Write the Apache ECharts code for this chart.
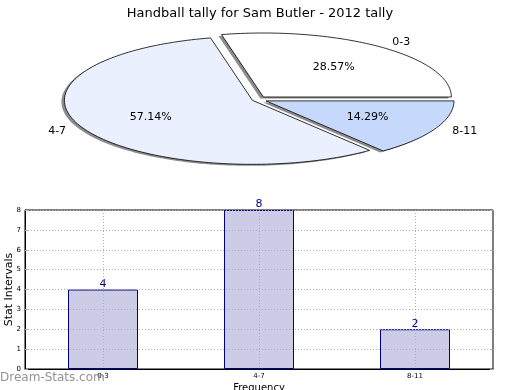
<!DOCTYPE html>
<html><head><meta charset="utf-8">
<script src="https://cdn.jsdelivr.net/npm/echarts@6/dist/echarts.min.js"></script>
<style>html,body{margin:0;padding:0;background:#fff}#c{width:520px;height:390px}</style>
</head><body><div id="c"></div>
<script>
const titleText = 'Handball tally for Sam Butler - 2012 tally';
const categories = ['0-3', '4-7', '8-11'];
const tallyValues = [4, 8, 2];
const yTicks = [0, 1, 2, 3, 4, 5, 6, 7, 8];

const total = tallyValues.reduce((a, b) => a + b, 0);
const PIE = { cx: 257.5, cy: 99.5, rx: 188, ry: 64, explode: [0.05, 0.03, 0.05],
  colors: ['#ffffff', '#eaf0fd', '#c6d9fd'] };
const FONT = '"DejaVu Sans", sans-serif';

function renderWedge(params, api) {
  const i = params.dataIndex;
  let start = 0;
  for (let k = 0; k < i; k++) start += tallyValues[k];
  const v = api.value(0);
  const a0 = start / total * 2 * Math.PI, a1 = (start + v) / total * 2 * Math.PI;
  const mid = (a0 + a1) / 2;
  const ex = PIE.explode[i];
  const ox = PIE.cx + ex * PIE.rx * Math.cos(mid), oy = PIE.cy - ex * PIE.ry * Math.sin(mid);
  const pts = [[ox, oy]];
  const n = Math.max(8, Math.ceil((a1 - a0) / (Math.PI / 120)));
  for (let j = 0; j <= n; j++) {
    const a = a0 + (a1 - a0) * j / n;
    pts.push([ox + PIE.rx * Math.cos(a), oy - PIE.ry * Math.sin(a)]);
  }
  const shadowPts = pts.map(p => [p[0] - 3, p[1] + 1.5]);
  const pct = (v / total * 100).toFixed(2) + '%';
  const lx = ox + 1.1 * PIE.rx * Math.cos(mid), ly = oy - 1.1 * PIE.ry * Math.sin(mid);
  const px = ox + 0.6 * PIE.rx * Math.cos(mid), py = oy - 0.6 * PIE.ry * Math.sin(mid);
  return { type: 'group', children: [
    { type: 'polygon', z2: 0, silent: true, shape: { points: shadowPts }, style: { fill: 'rgba(0,0,0,0.45)' } },
    { type: 'polygon', z2: 10, shape: { points: pts }, style: { fill: PIE.colors[i], stroke: '#000', lineWidth: 0.8 } },
    { type: 'text', z2: 20, x: px, y: py, style: { text: pct, fill: '#000', font: '11px ' + FONT, align: 'center', verticalAlign: 'middle' } },
    { type: 'text', z2: 20, x: lx, y: ly, style: { text: categories[i], fill: '#000', font: '11px ' + FONT,
      align: Math.cos(mid) >= 0 ? 'left' : 'right', verticalAlign: 'middle' } }
  ] };
}

const dotted = { color: '#b0b0b0', width: 1, type: [1, 2] };
const chart = echarts.init(document.getElementById('c'), null, { renderer: 'canvas' });
chart.setOption({
  animation: false,
  textStyle: { fontFamily: FONT },
  title: { text: titleText, left: 'center', top: 2,
    textStyle: { fontSize: 13, fontWeight: 'normal', color: '#000', fontFamily: FONT } },
  grid: { left: 25, right: 27, top: 210, bottom: 21, containLabel: false, outerBoundsMode: 'none',
    show: true, borderColor: '#000', borderWidth: 1, backgroundColor: 'transparent' },
  xAxis: [{
    type: 'category', data: categories, z: 5,
    axisLine: { lineStyle: { color: '#000', width: 1 } },
    axisTick: { alignWithLabel: true, inside: true, length: 3, lineStyle: { color: '#aaa' } },
    axisLabel: { fontSize: 7, color: '#000', margin: 4 },
    splitLine: { show: true, alignWithLabel: true, lineStyle: dotted },
    name: 'Frequency', nameLocation: 'middle', nameGap: 14, nameMoveOverlap: false,
    nameTextStyle: { fontSize: 10, color: '#000' }
  }],
  yAxis: [{
    type: 'value', min: yTicks[0], max: yTicks[yTicks.length - 1], interval: 1, z: 5,
    axisLine: { show: true, lineStyle: { color: '#000', width: 1 } },
    axisTick: { show: true, inside: true, length: 3, lineStyle: { color: '#aaa' } },
    axisLabel: { fontSize: 7, color: '#000', margin: 4 },
    splitLine: { show: true, lineStyle: dotted },
    name: 'Stat Intervals', nameLocation: 'middle', nameGap: 10, nameMoveOverlap: false,
    nameTextStyle: { fontSize: 11, color: '#000' }
  }, {
    type: 'value', position: 'right', min: yTicks[0], max: yTicks[yTicks.length - 1], interval: 1, z: 5,
    axisLine: { show: false }, axisLabel: { show: false }, splitLine: { show: false },
    axisTick: { show: true, inside: true, length: 3, lineStyle: { color: '#aaa' } }
  }],
  graphic: [{
    type: 'text', left: 0, top: 372, z: 100,
    style: { text: 'Dream-Stats.com', font: '12px ' + FONT, fill: 'rgba(128,128,128,0.85)' }
  }],
  series: [{
    type: 'bar', data: tallyValues, barWidth: 70, yAxisIndex: 0,
    itemStyle: { color: '#ccccE6', borderColor: '#00008b', borderWidth: 1 },
    label: { show: true, position: 'top', distance: 0, color: '#00008b', fontSize: 11 }
  }, {
    type: 'custom', coordinateSystem: 'none', renderItem: renderWedge,
    data: tallyValues.map((v, i) => ({ name: categories[i], value: [v] }))
  }]
});
</script></body></html>
